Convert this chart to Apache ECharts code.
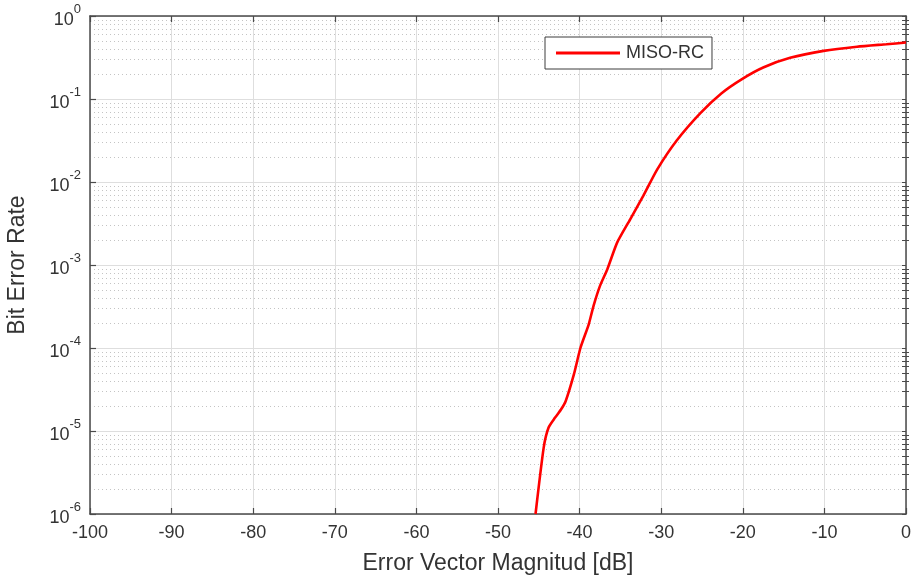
<!DOCTYPE html>
<html>
<head>
<meta charset="utf-8">
<title>BER vs EVM</title>
<script src="https://cdn.jsdelivr.net/npm/echarts@6/dist/echarts.min.js"></script>
<style>
  html, body { margin: 0; padding: 0; background: #ffffff; }
  #chart { width: 915px; height: 582px; }
</style>
</head>
<body>
<div id="chart"></div>
<script>
// Simulated bit error rate of the MISO-RC link against error vector magnitude
const seriesName = 'MISO-RC';
const evmDb = [-45.4, -44.4, -43.8, -43.0, -42.3, -41.7, -40.7, -39.9, -38.9, -38.3,
               -37.5, -36.6, -35.4, -33.8, -32.2, -30.5, -28.1, -25.2, -22.6, -20.1,
               -17.5, -14.2, -10.1, -6.0, -2.4, 0];
const ber = [1.0e-6, 6.3e-6, 1.1e-5, 1.45e-5, 1.8e-5, 2.3e-5, 4.8e-5, 1.0e-4, 1.9e-4, 3.2e-4,
             5.6e-4, 8.9e-4, 1.86e-3, 3.55e-3, 6.8e-3, 1.41e-2, 3.16e-2, 6.76e-2, 0.1175, 0.174,
             0.240, 0.313, 0.380, 0.427, 0.457, 0.479];

const xTicks = [-100, -90, -80, -70, -60, -50, -40, -30, -20, -10, 0];
const yDecades = [1e-6, 1e-5, 1e-4, 1e-3, 1e-2, 1e-1, 1];

// Minor log grid values 2..9 in each decade
const yMinor = [];
for (let i = 0; i < yDecades.length - 1; i++) {
  for (let k = 2; k <= 9; k++) yMinor.push(+(k * yDecades[i]).toPrecision(3));
}

const FONT = '"Liberation Sans", Arial, sans-serif';
const AXIS_COLOR = '#4a4a4a';
const TEXT_COLOR = '#333333';
const GRID_LEFT = 90, GRID_RIGHT = 9, CHART_W = 915;
const PLOT_W = CHART_W - GRID_LEFT - GRID_RIGHT;

const chart = echarts.init(document.getElementById('chart'), null, { renderer: 'canvas' });

const logAxisBase = {
  type: 'log',
  logBase: 10,
  min: yDecades[0],
  max: yDecades[yDecades.length - 1],
  splitNumber: yDecades.length - 1
};

chart.setOption({
  animation: false,
  backgroundColor: '#ffffff',
  grid: {
    left: GRID_LEFT, right: GRID_RIGHT, top: 16, bottom: 68,
    containLabel: false, outerBoundsMode: 'none'
  },
  legend: {
    data: [seriesName],
    left: 545,
    top: 37,
    orient: 'horizontal',
    itemWidth: 64,
    itemHeight: 14,
    itemGap: 6,
    padding: [7, 8, 7, 11],
    backgroundColor: '#ffffff',
    borderColor: '#3c3c3c',
    borderWidth: 1,
    borderRadius: 0,
    textStyle: { fontFamily: FONT, fontSize: 18, color: TEXT_COLOR, padding: [0, 0, 0, 1] },
    icon: 'path://M0,0 L64,0 L64,3 L0,3 Z'
  },
  xAxis: [
    {
      type: 'value',
      min: xTicks[0],
      max: xTicks[xTicks.length - 1],
      interval: 10,
      position: 'bottom',
      name: 'Error Vector Magnitud [dB]',
      nameLocation: 'middle',
      nameGap: 38,
      nameTextStyle: { fontFamily: FONT, fontSize: 23, color: TEXT_COLOR },
      axisLine: { show: true, onZero: false, lineStyle: { color: AXIS_COLOR, width: 1.5 } },
      axisTick: { show: true, inside: true, length: 6, lineStyle: { color: AXIS_COLOR, width: 1.2 } },
      axisLabel: { fontFamily: FONT, fontSize: 18, color: TEXT_COLOR, margin: 10 },
      splitLine: { show: true, lineStyle: { color: '#dedede', width: 1 } }
    },
    {
      type: 'value',
      min: xTicks[0],
      max: xTicks[xTicks.length - 1],
      interval: 10,
      position: 'top',
      axisLine: { show: true, onZero: false, lineStyle: { color: AXIS_COLOR, width: 1.5 } },
      axisTick: { show: true, inside: true, length: 6, lineStyle: { color: AXIS_COLOR, width: 1.2 } },
      axisLabel: { show: false },
      splitLine: { show: false }
    }
  ],
  yAxis: [
    Object.assign({}, logAxisBase, {
      position: 'left',
      name: 'Bit Error Rate',
      nameLocation: 'middle',
      nameGap: 61,
      nameRotate: 90,
      nameTextStyle: { fontFamily: FONT, fontSize: 23, color: TEXT_COLOR },
      axisLine: { show: true, onZero: false, lineStyle: { color: AXIS_COLOR, width: 1.5 } },
      axisTick: { show: true, inside: true, length: 6, lineStyle: { color: AXIS_COLOR, width: 1.2 } },
      axisLabel: {
        margin: 9,
        formatter: function (v) {
          const e = Math.round(Math.log10(v));
          return '{b|10}{s|' + e + '}';
        },
        rich: {
          b: { fontFamily: FONT, fontSize: 18, color: TEXT_COLOR, lineHeight: 26, verticalAlign: 'bottom' },
          s: { fontFamily: FONT, fontSize: 13, color: TEXT_COLOR, lineHeight: 14, verticalAlign: 'top' }
        }
      },
      splitLine: { show: true, lineStyle: { color: '#dedede', width: 1 } }
    }),
    // right frame edge with major and minor ticks
    Object.assign({}, logAxisBase, {
      position: 'right',
      axisLine: { show: true, onZero: false, lineStyle: { color: AXIS_COLOR, width: 1.5 } },
      axisTick: { show: true, inside: true, length: 4, customValues: yDecades.concat(yMinor),
                  lineStyle: { color: AXIS_COLOR, width: 1 } },
      axisLabel: { show: false },
      splitLine: { show: false }
    }),
    // minor ticks on the left edge and the dotted minor grid
    Object.assign({}, logAxisBase, {
      position: 'right',
      offset: -PLOT_W,
      axisLine: { show: false },
      axisTick: { show: true, inside: false, length: 3, customValues: yMinor,
                  lineStyle: { color: AXIS_COLOR, width: 1 } },
      axisLabel: { show: false },
      splitLine: { show: true, lineStyle: { type: [1, 3], color: '#c4c4c4', width: 1 } }
    })
  ],
  series: [
    {
      name: seriesName,
      type: 'line',
      xAxisIndex: 0,
      yAxisIndex: 0,
      data: evmDb.map((x, i) => [x, ber[i]]),
      showSymbol: false,
      symbol: 'none',
      smooth: 0.2,
      clip: true,
      z: 5,
      lineStyle: { color: '#ff0000', width: 2.6 },
      itemStyle: { color: '#ff0000' }
    }
  ]
});
</script>
</body>
</html>
